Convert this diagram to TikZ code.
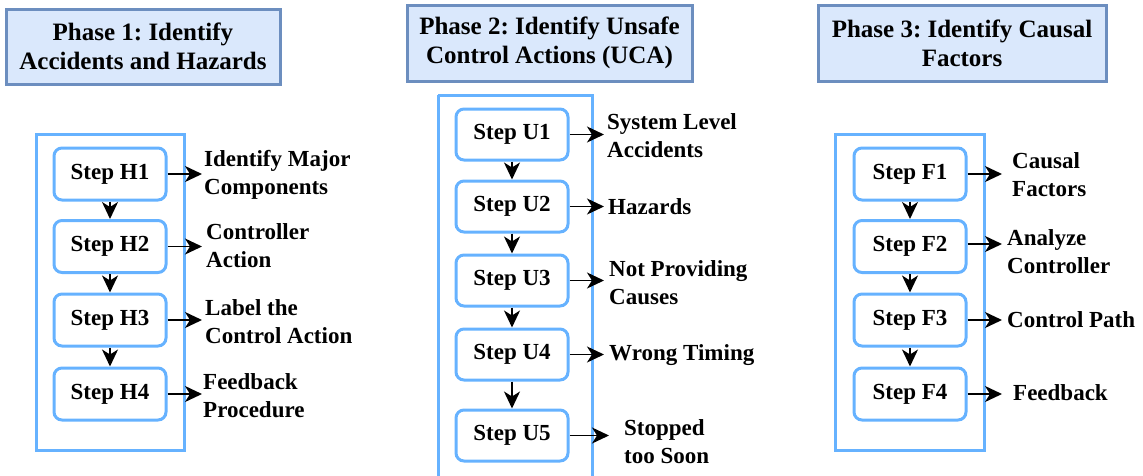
\documentclass[tikz,border=0pt]{standalone}
\usepackage{fontspec}
\setmainfont{Liberation Serif}
\usetikzlibrary{arrows.meta}
\definecolor{stepblue}{RGB}{102,178,255}
\definecolor{titlefill}{RGB}{218,232,252}
\definecolor{titledraw}{RGB}{108,142,191}
\frenchspacing
\begin{document}
\begin{tikzpicture}[x=1pt,y=-1pt,
  titlebox/.style={draw=titledraw,fill=titlefill,line width=3pt,align=center,
    font=\fontsize{25}{29}\selectfont\bfseries\frenchspacing,inner sep=0pt},
  container/.style={draw=stepblue,line width=3pt},
  stepbox/.style={draw=stepblue,line width=3pt,rounded corners=8pt,
    minimum width=112pt,minimum height=52pt,inner sep=0pt,
    font=\fontsize{23}{28}\selectfont\bfseries},
  lbl/.style={anchor=west,align=left,inner sep=0pt,
    font=\fontsize{23}{28}\selectfont\bfseries},
  tip/.tip={Stealth[length=17pt,width=16pt,inset=5pt]},
  arr/.style={line width=1.8pt,-tip}
]
\useasboundingbox (0,0) rectangle (1143,475);

% titles
\node[titlebox,minimum width=274pt,minimum height=75pt] (t1) at (143,46.5) {Phase 1: Identify\\Accidents and Hazards};
\node[titlebox,minimum width=285pt,minimum height=76pt] (t2) at (549.5,43) {Phase 2: Identify Unsafe\\Control Actions (UCA)};
\node[titlebox,minimum width=288pt,minimum height=76pt] (t3) at (962,43) {Phase 3: Identify Causal\\Factors};

% containers
\draw[container] (36,134) rectangle (184,450);
\draw[container] (438,95) -- (438,480) (592,480) -- (592,95) -- (438,95);
\draw[container] (835,134) rectangle (984,450);

% phase 1
\node[stepbox] (h1) at (110,174) {Step H1};
\node[stepbox] (h2) at (110,246.5) {Step H2};
\node[stepbox] (h3) at (110,320) {Step H3};
\node[stepbox] (h4) at (110,394) {Step H4};
\draw[arr] (h1) -- (h2);
\draw[arr] (h2) -- (h3);
\draw[arr] (h3) -- (h4);
\coordinate (h1e) at (202,174);
\coordinate (h2e) at (202,246.5);
\coordinate (h3e) at (202,320);
\coordinate (h4e) at (202,394);
\draw[arr] (h1.east) -- (h1e);
\draw[arr] (h2.east) -- (h2e);
\draw[arr] (h3.east) -- (h3e);
\draw[arr] (h4.east) -- (h4e);
\node[lbl] (l1) at (204,175) {Identify Major\\Components};
\node[lbl] (l2) at (206,246) {Controller\\Action};
\node[lbl] (l3) at (205,322) {Label the\\Control Action};
\node[lbl] (l4) at (203,396) {Feedback\\Procedure};

% phase 2
\node[stepbox,minimum height=51pt] (u1) at (512,134.5) {Step U1};
\node[stepbox,minimum height=51pt] (u2) at (512,206.5) {Step U2};
\node[stepbox,minimum height=51pt] (u3) at (512,280.5) {Step U3};
\node[stepbox,minimum height=51pt] (u4) at (512,354.5) {Step U4};
\node[stepbox,minimum height=51pt] (u5) at (512,435.5) {Step U5};
\draw[arr] (u1) -- (u2);
\draw[arr] (u2) -- (u3);
\draw[arr] (u3) -- (u4);
\draw[arr] (u4) -- (u5);
\coordinate (u1e) at (604,134.5);
\coordinate (u2e) at (604,206.5);
\coordinate (u3e) at (604,280.5);
\coordinate (u4e) at (604,354.5);
\coordinate (u5e) at (609,435.5);
\draw[arr] (u1.east) -- (u1e);
\draw[arr] (u2.east) -- (u2e);
\draw[arr] (u3.east) -- (u3e);
\draw[arr] (u4.east) -- (u4e);
\draw[arr] (u5.east) -- (u5e);
\node[lbl] (m1) at (607,136) {System Level\\Accidents};
\node[lbl] (m2) at (608,207) {Hazards};
\node[lbl] (m3) at (609,283) {Not Providing\\Causes};
\node[lbl] (m4) at (609,355) {Wrong Timing};
\node[lbl] (m5) at (624,442) {Stopped\\too Soon};

% phase 3
\node[stepbox] (f1) at (910,174) {Step F1};
\node[stepbox] (f2) at (910,246.5) {Step F2};
\node[stepbox] (f3) at (910,320) {Step F3};
\node[stepbox] (f4) at (910,394) {Step F4};
\draw[arr] (f1) -- (f2);
\draw[arr] (f2) -- (f3);
\draw[arr] (f3) -- (f4);
\coordinate (f1e) at (1002,174);
\coordinate (f2e) at (1002,244);
\coordinate (f3e) at (1002,320);
\coordinate (f4e) at (1002,394);
\draw[arr] (f1.east) -- (f1e);
\draw[arr] (f2.east) ++(0,-2.5) -- (f2e);
\draw[arr] (f3.east) -- (f3e);
\draw[arr] (f4.east) -- (f4e);
\node[lbl] (n1) at (1012,175) {Causal\\Factors};
\node[lbl] (n2) at (1007,252) {Analyze\\Controller};
\node[lbl] (n3) at (1007,320) {Control Path};
\node[lbl] (n4) at (1013,393) {Feedback};
\end{tikzpicture}
\end{document}
